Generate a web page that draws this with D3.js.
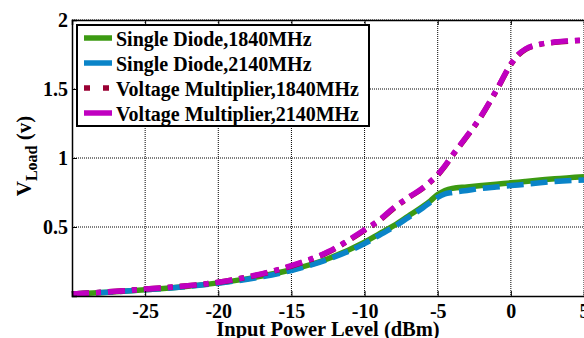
<!DOCTYPE html>
<html>
<head>
<meta charset="utf-8">
<script src="https://cdn.jsdelivr.net/npm/d3@7"></script>
<style>
  body { margin: 0; background: #fff; }
  svg { display: block; font-family: "Liberation Serif", "Times New Roman", serif; font-weight: bold; }
</style>
</head>
<body>
<svg id="chart" width="584" height="338"></svg>
<script>
// input power (dBm)
const pin = [-30, -27.5, -25, -22.5, -20, -17.5, -15, -12.5, -10, -9, -8, -7, -6, -5.5, -5, -4.5, -4, -3, -2, -1, 0, 0.5, 1, 2, 3, 5]
// load voltage (V)
const sd1840 = [0.015, 0.028, 0.045, 0.066, 0.095, 0.135, 0.19, 0.27, 0.39, 0.45, 0.51, 0.58, 0.65, 0.69, 0.735, 0.765, 0.78, 0.79, 0.80, 0.81, 0.82, 0.825, 0.83, 0.84, 0.85, 0.865]
const sd2140 = [0.015, 0.028, 0.045, 0.065, 0.093, 0.13, 0.185, 0.265, 0.38, 0.44, 0.50, 0.57, 0.64, 0.68, 0.715, 0.74, 0.75, 0.765, 0.78, 0.79, 0.80, 0.805, 0.81, 0.82, 0.83, 0.84]
const vm1840 = [0.015, 0.03, 0.05, 0.07, 0.10, 0.148, 0.217, 0.317, 0.476, 0.546, 0.636, 0.712, 0.782, 0.826, 0.876, 0.941, 1.016, 1.156, 1.306, 1.486, 1.677, 1.746, 1.787, 1.823, 1.838, 1.853]
const vm2140 = [0.015, 0.03, 0.05, 0.07, 0.10, 0.15, 0.22, 0.32, 0.48, 0.55, 0.64, 0.715, 0.785, 0.83, 0.88, 0.945, 1.02, 1.16, 1.31, 1.49, 1.68, 1.75, 1.79, 1.825, 1.84, 1.855]

const seriesNames = ['Single Diode,1840MHz', 'Single Diode,2140MHz', 'Voltage Multiplier,1840MHz', 'Voltage Multiplier,2140MHz']
const xTicks = [-25, -20, -15, -10, -5, 0, 5]
const yTicks = [0.5, 1, 1.5, 2]

const series = [
  {name: seriesNames[0], vals: sd1840, color: '#3c9a12', dash: null, key: null},
  {name: seriesNames[1], vals: sd2140, color: '#0a84c8', dash: '17,7', key: null},
  {name: seriesNames[2], vals: vm1840, color: '#990033', dash: '17,7,5,7', key: '6,13'},
  {name: seriesNames[3], vals: vm2140, color: '#c000c0', dash: '17,7,5,7', key: null}
]

const svg = d3.select('#chart')
const pLeft = 72, pRight = 584, pTop = 20, pBottom = 296
const serif = '"Liberation Serif", "Times New Roman", serif'

const x = d3.scaleLinear().domain([-30, 5]).range([pLeft, pRight])
const y = d3.scaleLinear().domain([0, 2]).range([pBottom, pTop])

// grid
const grid = svg.append('g')
grid.selectAll('.gx').data(xTicks).join('line')
  .attr('x1', d => x(d)).attr('x2', d => x(d))
  .attr('y1', pTop).attr('y2', pBottom)
  .attr('stroke', '#000').attr('stroke-width', 1).attr('stroke-dasharray', '1,1')
grid.selectAll('.gy').data(yTicks).join('line')
  .attr('x1', pLeft).attr('x2', pRight)
  .attr('y1', d => y(d)).attr('y2', d => y(d))
  .attr('stroke', '#000').attr('stroke-width', 1).attr('stroke-dasharray', '1,1')

// curves
const line = d3.line()
  .x((d, i) => x(pin[i]))
  .y(d => y(d))
  .curve(d3.curveMonotoneX)

svg.append('g').selectAll('path').data(series).join('path')
  .attr('d', d => line(d.vals))
  .attr('fill', 'none')
  .attr('stroke', d => d.color)
  .attr('stroke-width', 5.5)
  .attr('stroke-dasharray', d => d.dash)

// axes
const xAxis = d3.axisBottom(x).tickValues(xTicks).tickSize(-5).tickPadding(8).tickFormat(d => String(d))
const yAxis = d3.axisLeft(y).tickValues(yTicks).tickSize(-5).tickPadding(4).tickFormat(d => String(d))

const gx = svg.append('g').attr('transform', `translate(0,${pBottom})`).call(xAxis)
const gy = svg.append('g').attr('transform', `translate(${pLeft},0)`).call(yAxis)
const gt = svg.append('g').attr('transform', `translate(0,${pTop})`).call(d3.axisTop(x).tickValues(xTicks).tickSize(-5).tickFormat(''))
for (const g of [gx, gy, gt]) {
  g.attr('font-family', serif).attr('font-size', 20).attr('font-weight', 'bold')
  g.select('.domain').attr('stroke', '#000').attr('stroke-width', 1.5)
  g.selectAll('.tick line').attr('stroke', '#000')
  g.selectAll('.tick text').attr('fill', '#000')
}

// axis titles
svg.append('text')
  .attr('x', 328).attr('y', 336)
  .attr('text-anchor', 'middle')
  .style('font-size', '20.5px')
  .text('Input Power Level (dBm)')

const yl = svg.append('text')
  .attr('transform', 'translate(31,156) rotate(-90)')
  .attr('text-anchor', 'middle')
  .style('font-size', '21px')
yl.append('tspan').text('V')
yl.append('tspan').attr('dy', 6).style('font-size', '16px').text('Load')
yl.append('tspan').attr('dy', -6).text(' (v)')

// legend
const lg = svg.append('g')
lg.append('rect')
  .attr('x', 77).attr('y', 25).attr('width', 292).attr('height', 101)
  .attr('fill', '#fff').attr('stroke', '#000').attr('stroke-width', 2)
const rows = lg.selectAll('.row').data(series).join('g')
  .attr('transform', (d, i) => `translate(84,${38 + i * 25})`)
rows.append('line')
  .attr('x1', 0).attr('x2', 28).attr('y1', 0).attr('y2', 0)
  .attr('stroke', d => d.color).attr('stroke-width', 5.5)
  .attr('stroke-dasharray', d => d.key)
rows.append('text')
  .attr('x', 32).attr('y', 8)
  .style('font-size', '20px')
  .text(d => d.name)
</script>
</body>
</html>
